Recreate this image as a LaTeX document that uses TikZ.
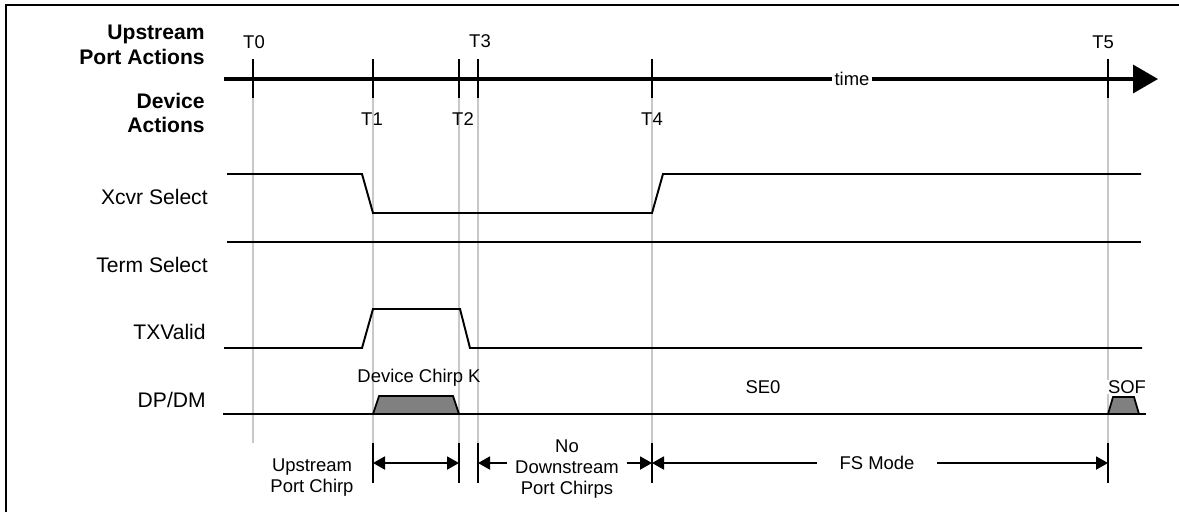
\documentclass[tikz,border=0pt]{standalone}
\usepackage{fontspec}
\setmainfont{Liberation Sans}
\usetikzlibrary{arrows.meta, calc}
\definecolor{guidegray}{HTML}{C8C8C8}
\definecolor{chirpgray}{HTML}{808080}

\begin{document}
\begin{tikzpicture}[
    x=0.02cm, y=-0.02cm,
    font=\fontsize{10.5}{11.9}\selectfont,
    frame/.style={line width=1.2pt},
    axis/.style={
        line width=2pt, -{Triangle[length=0.5cm, width=0.56cm]},
    },
    tickmark/.style={line width=0.7pt},
    guide/.style={draw=guidegray, line width=0.6pt},
    signal/.style={line width=1.1pt},
    chirp/.style={draw, fill=chirpgray, line width=1pt},
    rowlabel/.style={
        anchor=east, inner sep=0pt, font=\fontsize{12}{13.6}\selectfont,
    },
    grouplabel/.style={
        anchor=east, align=right, inner sep=0pt,
        font=\fontsize{12}{13.9}\selectfont\bfseries,
    },
    tlabel/.style={inner sep=1pt},
    dimtick/.style={line width=1.1pt},
    dim/.style={
        line width=1.1pt, -{Triangle[length=0.24cm, width=0.26cm]},
    },
    dimlabel/.style={align=center, inner sep=0pt},
]
\useasboundingbox (0,0) rectangle (1179,512);

% Frame (left and top edges)
\draw[frame] (6,512) -- (6,5) -- (1179,5);

% Group labels
\node[grouplabel] (upport) at (205,45) {Upstream\\Port Actions};
\node[grouplabel] (devact) at (205,113) {Device\\Actions};

% Time instants
\coordinate (t0) at (253,79);
\coordinate (t1) at (373,79);
\coordinate (t2) at (459,79);
\coordinate (t3) at (478,79);
\coordinate (t4) at (652,79);
\coordinate (t5) at (1108,79);

% Dimension line anchors
\coordinate (d1) at (373,463);
\coordinate (d2) at (459,463);
\coordinate (d3) at (478,463);
\coordinate (d4) at (652,463);
\coordinate (d5) at (1108,463);

% Guide lines
\draw[guide] ($(t0)+(0,19)$) -- ($(t0)+(0,364)$);
\draw[guide] ($(t1)+(0,19)$) -- ($(d1)+(0,-20)$);
\draw[guide] ($(t2)+(0,19)$) -- ($(d2)+(0,-20)$);
\draw[guide] ($(t3)+(0,19)$) -- ($(d3)+(0,-20)$);
\draw[guide] ($(t4)+(0,19)$) -- ($(d4)+(0,-20)$);
\draw[guide] ($(t5)+(0,19)$) -- ($(d5)+(0,-20)$);

% Time axis
\coordinate (axstart) at (224,79);
\coordinate (axend) at (1158,79);
\draw[axis] (axstart) -- (axend);
\node[fill=white, inner sep=1.5pt] (timelbl) at (852,79) {time};

% Ticks
\draw[tickmark] ($(t0)+(0,-20)$) -- ($(t0)+(0,19)$);
\draw[tickmark] ($(t1)+(0,-20)$) -- ($(t1)+(0,19)$);
\draw[tickmark] ($(t2)+(0,-20)$) -- ($(t2)+(0,19)$);
\draw[tickmark] ($(t3)+(0,-20)$) -- ($(t3)+(0,19)$);
\draw[tickmark] ($(t4)+(0,-20)$) -- ($(t4)+(0,19)$);
\draw[tickmark] ($(t5)+(0,-20)$) -- ($(t5)+(0,19)$);

\node[tlabel] (lt0) at (254,42) {T0};
\node[tlabel] (lt3) at (480,41) {T3};
\node[tlabel] (lt5) at (1103,42) {T5};
\node[tlabel] (lt1) at (372,119) {T1};
\node[tlabel] (lt2) at (463,119) {T2};
\node[tlabel] (lt4) at (652,119) {T4};

% Signal rows
\node[rowlabel] (xcvr) at (208,197) {Xcvr Select};
\draw[signal] (227,174) -- (362,174) -- (373,213) -- (652,213)
    -- (663,174) -- (1141,174);

\node[rowlabel] (term) at (208,265) {Term Select};
\draw[signal] (227,242) -- (1141,242);

\node[rowlabel] (txvalid) at (206,332) {TXValid};
\draw[signal] (224,348) -- (362,348) -- (373,309) -- (460,309)
    -- (470,348) -- (1142,348);

\node[rowlabel] (dpdm) at (206,400) {DP/DM};
\draw[chirp] (373,414) -- (379,396) -- (453,396) -- (459,414) -- cycle;
\draw[chirp] (1108,414) -- (1113,397) -- (1134,397) -- (1139,414) -- cycle;
\draw[signal] (223,414) -- (1146,414);
\node (chirpk) at (419,378) {Device Chirp K};
\node (se0) at (763,387) {SE0};
\node[fill=white, inner sep=0.5pt] (sof) at (1127,387) {SOF};

% Dimension lines
\draw[dimtick] ($(d1)+(0,-20)$) -- ($(d1)+(0,20)$);
\draw[dimtick] ($(d2)+(0,-20)$) -- ($(d2)+(0,20)$);
\draw[dimtick] ($(d3)+(0,-20)$) -- ($(d3)+(0,20)$);
\draw[dimtick] ($(d4)+(0,-20)$) -- ($(d4)+(0,20)$);
\draw[dimtick] ($(d5)+(0,-20)$) -- ($(d5)+(0,20)$);

\node[dimlabel] (upchirp) at (312,478) {Upstream\\Port Chirp};
\draw[dim, {Triangle[length=0.24cm, width=0.26cm]}-{Triangle[length=0.24cm, width=0.26cm]}]
    (d1) -- (d2);

\node[dimlabel, inner xsep=0.15cm] (nochirp) at (567,469)
    {No\\Downstream\\Port Chirps};
\draw[dim] (nochirp.west |- d3) -- (d3);
\draw[dim] (nochirp.east |- d4) -- (d4);

\node[inner xsep=0.44cm, inner ysep=0pt] (fsmode) at (877,463) {FS Mode};
\draw[dim] (fsmode.west) -- (d4);
\draw[dim] (fsmode.east) -- (d5);

\end{tikzpicture}
\end{document}
